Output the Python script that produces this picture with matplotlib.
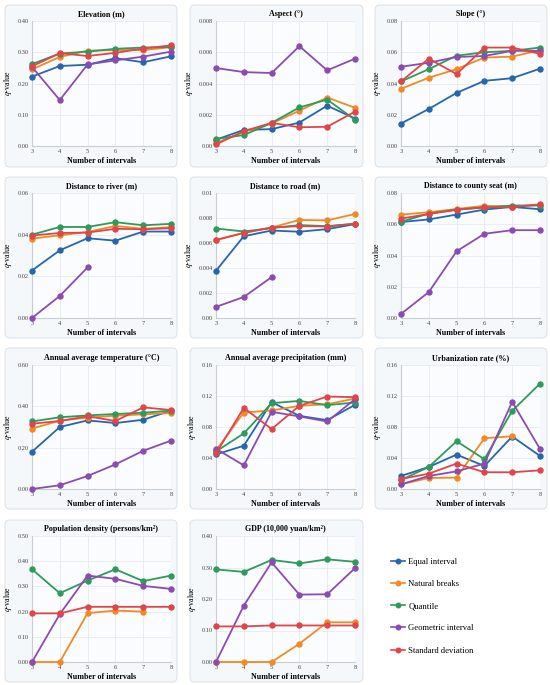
import numpy as np
import matplotlib
matplotlib.use("Agg")
import matplotlib.pyplot as plt
from matplotlib.patches import FancyBboxPatch

plt.rcParams['font.family'] = ['Liberation Serif', 'DejaVu Serif']
plt.rcParams['mathtext.fontset'] = 'stix'

n = np.nan
intervals = [3, 4, 5, 6, 7, 8]
methods = ["Equal interval", "Natural breaks", "Quantile", "Geometric interval", "Standard deviation"]
colors = ["#2566ad", "#f08a24", "#2e9a5c", "#8a4cb0", "#e0454a"]

titles = ["Elevation (m)", "Aspect (°)", "Slope (°)",
          "Distance to river (m)", "Distance to road (m)", "Distance to county seat (m)",
          "Annual average temperature (°C)", "Annual average precipitation (mm)", "Urbanization rate (%)",
          "Population density (persons/km²)", "GDP (10,000 yuan/km²)"]

# values per panel: [equal, natural, quantile, geometric, std]
elevation = [[0.222, 0.256, 0.260, 0.281, 0.268, 0.287],
             [0.245, 0.285, 0.305, 0.307, 0.307, 0.316],
             [0.262, 0.296, 0.302, 0.311, 0.315, 0.317],
             [0.253, 0.147, 0.261, 0.274, 0.286, 0.302],
             [0.255, 0.297, 0.288, 0.298, 0.312, 0.322]]
aspect = [[0.0004, 0.00103, 0.00108, 0.0015, 0.00258, 0.00176],
          [0.0002, 0.0009, 0.00144, 0.00226, 0.0031, 0.00245],
          [0.00045, 0.0007, 0.00148, 0.00247, 0.00297, 0.00168],
          [0.00499, 0.00473, 0.00467, 0.00639, 0.00484, 0.00559],
          [0.0001, 0.00095, 0.00148, 0.0012, 0.00123, 0.0022]]
slope = [[0.0144, 0.0237, 0.034, 0.0417, 0.0434, 0.0495],
         [0.0366, 0.0437, 0.0492, 0.0566, 0.0572, 0.0613],
         [0.0413, 0.0492, 0.0578, 0.060, 0.0609, 0.063],
         [0.0507, 0.0533, 0.057, 0.0576, 0.0609, 0.0609],
         [0.0413, 0.0559, 0.046, 0.063, 0.063, 0.059]]
river = [[0.0228, 0.0325, 0.0383, 0.0371, 0.0415, 0.0415],
         [0.0381, 0.0397, 0.0413, 0.0442, 0.0428, 0.0436],
         [0.0400, 0.0437, 0.0437, 0.0460, 0.0445, 0.0452],
         [0.0, 0.0106, 0.0243, n, n, n],
         [0.0396, 0.0408, 0.0410, 0.0428, 0.0426, 0.0431]]
road = [[0.00378, 0.00654, 0.0070, 0.0069, 0.00711, 0.00751],
        [0.00624, 0.00681, 0.00724, 0.00784, 0.00781, 0.00832],
        [0.00716, 0.00692, 0.00719, 0.00743, 0.00735, 0.00754],
        [0.00089, 0.00168, 0.00327, n, n, n],
        [0.00624, 0.00681, 0.00724, 0.00735, 0.00732, 0.00754]]
county = [[0.0614, 0.0631, 0.0662, 0.0694, 0.0711, 0.0696],
          [0.0662, 0.0677, 0.0698, 0.0718, 0.0713, 0.0724],
          [0.0616, 0.0668, 0.0694, 0.0707, 0.0720, 0.0720],
          [0.0026, 0.0166, 0.0427, 0.0539, 0.0562, 0.0562],
          [0.0636, 0.0666, 0.0692, 0.0709, 0.0709, 0.0728]]
temperature = [[0.180, 0.300, 0.332, 0.319, 0.335, 0.379],
               [0.292, 0.331, 0.345, 0.355, 0.361, 0.368],
               [0.327, 0.347, 0.356, 0.363, 0.369, 0.379],
               [0.0, 0.018, 0.063, 0.119, 0.185, 0.234],
               [0.316, 0.329, 0.352, 0.329, 0.395, 0.382]]
precip = [[0.0446, 0.0558, 0.112, 0.0944, 0.0888, 0.1086],
          [0.0498, 0.0987, 0.1013, 0.1073, 0.1094, 0.1167],
          [0.0485, 0.0717, 0.1107, 0.1137, 0.1082, 0.1116],
          [0.0519, 0.0305, 0.0996, 0.0936, 0.0871, 0.1159],
          [0.0459, 0.1047, 0.0773, 0.1073, 0.1193, 0.1185]]
urban = [[0.0168, 0.0284, 0.0444, 0.0297, 0.0677, 0.0427],
         [0.006, 0.0142, 0.0147, 0.0655, 0.0681, n],
         [0.0116, 0.0284, 0.0616, 0.0384, 0.1009, 0.136],
         [0.006, 0.0168, 0.0228, 0.0328, 0.1125, 0.0517],
         [0.0129, 0.0198, 0.0328, 0.0216, 0.0216, 0.0241]]
population = [[n, n, n, n, n, n],
              [0.0, 0.0, 0.194, 0.204, 0.200, n],
              [0.368, 0.273, 0.323, 0.368, 0.321, 0.343],
              [0.0, 0.190, 0.343, 0.330, 0.302, 0.290],
              [0.193, 0.193, 0.219, 0.219, 0.219, 0.219]]
gdp = [[n, n, n, n, n, n],
       [0.0, 0.0, 0.0, 0.058, 0.126, 0.126],
       [0.294, 0.286, 0.324, 0.313, 0.326, 0.318],
       [0.0, 0.179, 0.316, 0.214, 0.215, 0.298],
       [0.113, 0.113, 0.116, 0.116, 0.116, 0.116]]

panel_data = [elevation, aspect, slope, river, road, county,
              temperature, precip, urban, population, gdp]

ytick_values = [[0.0, 0.1, 0.2, 0.3, 0.4],
                [0.0, 0.002, 0.004, 0.006, 0.008],
                [0.0, 0.02, 0.04, 0.06, 0.08],
                [0.0, 0.02, 0.04, 0.06],
                [0.0, 0.002, 0.004, 0.006, 0.008, 0.01],
                [0.0, 0.02, 0.04, 0.06, 0.08],
                [0.0, 0.2, 0.4, 0.6],
                [0.0, 0.04, 0.08, 0.12, 0.16],
                [0.0, 0.04, 0.08, 0.12, 0.16],
                [0.0, 0.1, 0.2, 0.3, 0.4, 0.5],
                [0.0, 0.1, 0.2, 0.3, 0.4]]
ytick_labels = [["0.00", "0.10", "0.20", "0.30", "0.40"],
                ["0.00", "0.002", "0.004", "0.006", "0.008"],
                ["0.00", "0.02", "0.04", "0.06", "0.08"],
                ["0.00", "0.02", "0.04", "0.06"],
                ["0.00", "0.002", "0.004", "0.006", "0.008", "0.01"],
                ["0.00", "0.02", "0.04", "0.06", "0.08"],
                ["0.00", "0.20", "0.40", "0.60"],
                ["0.00", "0.04", "0.08", "0.12", "0.16"],
                ["0.00", "0.04", "0.08", "0.12", "0.16"],
                ["0.00", "0.10", "0.20", "0.30", "0.40", "0.50"],
                ["0.00", "0.10", "0.20", "0.30", "0.40"]]

W, H = 550, 685
fig = plt.figure(figsize=(W / 100, H / 100), dpi=100)

col_axes = [(32, 171), (216, 355), (401, 540)]
row_axes = [(21, 146), (193, 318), (365, 489), (536, 662)]
col_box = [(5, 177), (190, 363), (375, 547)]
row_box = [(5, 167), (177, 338), (348, 509), (520, 682)]

def fx(px):
    return px / W

def fy(py):
    return 1 - py / H

for i in range(11):
    r, c = divmod(i, 3)
    bx0, bx1 = col_box[c]
    by0, by1 = row_box[r]
    box = FancyBboxPatch((fx(bx0), fy(by1)), fx(bx1) - fx(bx0), fy(by0) - fy(by1),
                         boxstyle="round,pad=0,rounding_size=0.008",
                         transform=fig.transFigure, facecolor="#f5f8fb",
                         edgecolor="#dde3ea", linewidth=0.8, zorder=-5)
    fig.add_artist(box)
    ax0, ax1 = col_axes[c]
    ay0, ay1 = row_axes[r]
    ax = fig.add_axes([fx(ax0), fy(ay1), fx(ax1) - fx(ax0), fy(ay0) - fy(ay1)])
    ax.set_zorder(2)
    ax.set_facecolor("#fbfcfe")
    for k in range(5):
        ax.plot(intervals, panel_data[i][k], color=colors[k], marker="o",
                markersize=3.6, linewidth=1.3, clip_on=False, zorder=3)
    yt = ytick_values[i]
    ax.set_ylim(yt[0], yt[-1])
    ax.set_xlim(3, 8)
    ax.set_yticks(yt)
    ax.set_yticklabels(ytick_labels[i])
    ax.set_xticks(intervals)
    ax.tick_params(axis="both", labelsize=4.6, length=0, pad=2, colors="#444444")
    ax.grid(True, color="#e6ebf0", linewidth=0.6)
    ax.set_axisbelow(True)
    for s in ["top", "right"]:
        ax.spines[s].set_visible(False)
    for s in ["left", "bottom"]:
        ax.spines[s].set_color("#c8cdd2")
        ax.spines[s].set_linewidth(0.8)
    ax.set_title(titles[i], fontsize=5.8, fontweight="bold", pad=3.5)
    ax.set_xlabel("Number of intervals", fontsize=5.8, fontweight="bold", labelpad=2.5)
    ax.set_ylabel("$q$-value", fontsize=5.8, labelpad=3)

handles = []
for k in range(5):
    h, = fig.axes[0].plot([], [], color=colors[k], marker="o", markersize=3.3, linewidth=1.2)
    handles.append(h)
fig.legend(handles, methods, loc="upper left", bbox_to_anchor=(fx(383), fy(550)),
           frameon=False, fontsize=6.2, handlelength=1.7, labelspacing=1.65,
           handletextpad=0.35)

fig.savefig("out.png", dpi=100)
